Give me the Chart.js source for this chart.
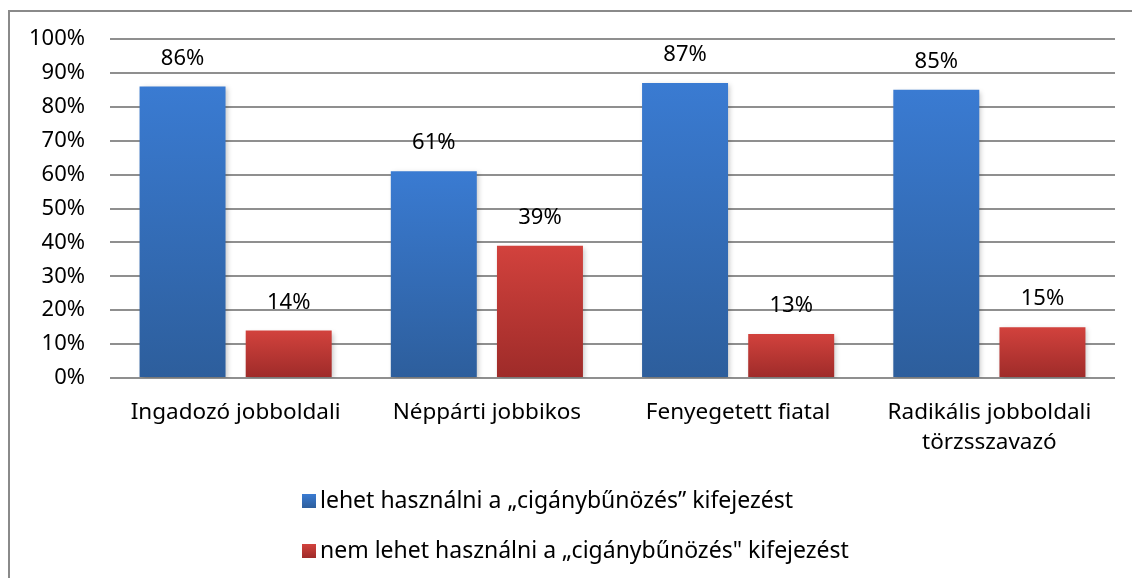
<!DOCTYPE html>
<html>
<head>
<meta charset="utf-8">
<script src="https://cdn.jsdelivr.net/npm/chart.js@4/dist/chart.umd.min.js"></script>
<style>
  html, body { margin: 0; padding: 0; background: #fff; }
  #wrap { width: 1132px; height: 578px; }
</style>
</head>
<body>
<div id="wrap"><canvas id="barChart" width="1132" height="578"></canvas></div>
<script>
// data
const categories = [
  "Ingadozó jobboldali",
  "Néppárti jobbikos",
  "Fenyegetett fiatal",
  ["Radikális jobboldali", "törzsszavazó"],
];
const canUse = [86, 61, 87, 85];
const cannotUse = [14, 39, 13, 15];
const seriesNames = [
  "lehet használni a „cigánybűnözés” kifejezést",
  "nem lehet használni a „cigánybűnözés\" kifejezést",
];
const yMin = 0, yMax = 100, yStep = 10;

const FONT = "'Noto Sans', 'DejaVu Sans', sans-serif";
const blueStops = ["#3a7bd2", "#2d5e9c"];
const redStops = ["#d2423d", "#9e2b29"];

// vertical gradient per bar, light on top, dark at the bottom
function barGradient(stops) {
  return (ctx) => {
    const chart = ctx.chart;
    const area = chart.chartArea;
    if (!area || ctx.type !== "data") return stops[0];
    const top = chart.scales.y.getPixelForValue(ctx.raw);
    const g = chart.ctx.createLinearGradient(0, top, 0, area.bottom);
    g.addColorStop(0, stops[0]);
    g.addColorStop(1, stops[1]);
    return g;
  };
}

// frame round the chart (cut off on the right and bottom)
const framePlugin = {
  id: "frame",
  beforeDraw(chart) {
    const c = chart.ctx;
    c.save();
    c.fillStyle = "#fff";
    c.fillRect(0, 0, chart.width, chart.height);
    c.strokeStyle = "#8a8a8a";
    c.lineWidth = 2;
    c.beginPath();
    c.moveTo(9, chart.height);
    c.lineTo(9, 11);
    c.lineTo(chart.width, 11);
    c.stroke();
    c.restore();
  },
};

// soft shadow under bars
const shadowPlugin = {
  id: "barShadow",
  beforeDatasetDraw(chart) {
    const c = chart.ctx;
    c.save();
    c.shadowColor = "rgba(0,0,0,0.22)";
    c.shadowBlur = 5;
    c.shadowOffsetX = 2;
    c.shadowOffsetY = 2;
  },
  afterDatasetDraw(chart) {
    chart.ctx.restore();
  },
};

// value labels above the bars
const valueLabels = {
  id: "valueLabels",
  afterDatasetsDraw(chart) {
    const c = chart.ctx;
    c.save();
    c.font = "22px " + FONT;
    c.fillStyle = "#000";
    c.textAlign = "center";
    c.textBaseline = "middle";
    chart.data.datasets.forEach((ds, i) => {
      chart.getDatasetMeta(i).data.forEach((bar, j) => {
        c.fillText(ds.data[j] + "%", bar.x, bar.y - 28);
      });
    });
    c.restore();
  },
};

// legend stacked in two rows under the axis
const stackedLegend = {
  id: "stackedLegend",
  afterDraw(chart) {
    const c = chart.ctx;
    const stops = [blueStops, redStops];
    const rows = [501, 551];
    c.save();
    c.font = "23px " + FONT;
    c.textBaseline = "middle";
    c.textAlign = "left";
    chart.data.datasets.forEach((ds, i) => {
      const y = rows[i];
      const g = c.createLinearGradient(0, y - 7, 0, y + 7);
      g.addColorStop(0, stops[i][0]);
      g.addColorStop(1, stops[i][1]);
      c.fillStyle = g;
      c.fillRect(302, y - 7, 14, 14);
      c.fillStyle = "#000";
      c.fillText(ds.label, 320, y);
    });
    c.restore();
  },
};

const ctx = document.getElementById("barChart").getContext("2d");
new Chart(ctx, {
  type: "bar",
  data: {
    labels: categories,
    datasets: [
      {
        label: seriesNames[0],
        data: canUse,
        backgroundColor: barGradient(blueStops),
        categoryPercentage: 0.845,
        barPercentage: 0.81,
      },
      {
        label: seriesNames[1],
        data: cannotUse,
        backgroundColor: barGradient(redStops),
        categoryPercentage: 0.845,
        barPercentage: 0.81,
      },
    ],
  },
  options: {
    responsive: false,
    animation: false,
    layout: { padding: { left: 0, top: 39, right: 17, bottom: 0 } },
    plugins: {
      legend: { display: false },
      tooltip: { enabled: false },
    },
    scales: {
      x: {
        grid: { display: false, drawTicks: false },
        border: { display: false },
        ticks: {
          color: "#000",
          font: { family: FONT, size: 22.5, lineHeight: 1.35 },
          padding: 19,
          maxRotation: 0,
          autoSkip: false,
        },
        afterFit(scale) { scale.height = 200; },
      },
      y: {
        min: yMin,
        max: yMax,
        grid: { color: "#8f8f8f", lineWidth: 2, drawTicks: false },
        border: { display: false },
        ticks: {
          stepSize: yStep,
          color: "#000",
          font: { family: FONT, size: 22 },
          padding: 25,
          callback: (v) => v + "%",
        },
        afterFit(scale) { scale.width = 110; },
      },
    },
  },
  plugins: [framePlugin, shadowPlugin, valueLabels, stackedLegend],
});
</script>
</body>
</html>
